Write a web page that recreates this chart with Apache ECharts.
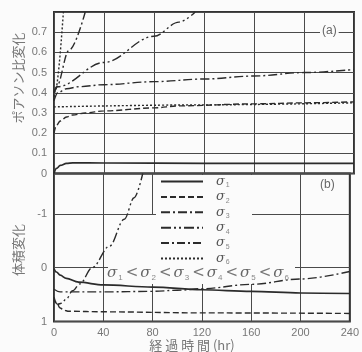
<!DOCTYPE html>
<html><head><meta charset="utf-8">
<script src="https://cdn.jsdelivr.net/npm/echarts@6/dist/echarts.min.js"></script>
<style>html,body{margin:0;padding:0;background:#fbfbfb}#c{width:362px;height:352px}</style>
</head><body><div id="c"></div>
<script>
// ---- data ----
const xTickLabels = ['0','40','80','120','160','200','240'];
const upperTickLabels = ['0','0.1','0.2','0.3','0.4','0.5','0.6','0.7'];
const lowerTickLabels = ['-1','0','1'];
const seriesNames = ['σ1','σ2','σ3','σ4','σ5','σ6'];

// (a) Poisson ratio change
const a1T = [0,2,5,10,15,40,120,240];
const a1V = [0.0,0.025,0.04,0.05,0.053,0.052,0.05,0.05];
const a2T = [0,2,5,10,15,25,40,80,100,160,200,240];
const a2V = [0.20,0.24,0.26,0.28,0.29,0.30,0.31,0.325,0.335,0.345,0.35,0.355];
const a3T = [0,3,10,20,40,80,120,160,200,240];
const a3V = [0.36,0.40,0.42,0.43,0.44,0.455,0.468,0.483,0.50,0.515];
const a4T = [0,3,40,80,100,113];
const a4V = [0.40,0.43,0.55,0.68,0.75,0.80];
const a5T = [0,2,12,25];
const a5V = [0.40,0.43,0.61,0.80];
const a6T = [0,1,7.5];
const a6V = [0.38,0.41,0.80];
const aRefT = [0,120,240];
const aRefV = [0.33,0.34,0.35];

// (b) volume change
const b1T = [0,2,5,10,20,40,80,120,160,200,240];
const b1V = [0.02,0.08,0.14,0.20,0.27,0.32,0.36,0.41,0.44,0.47,0.48];
const b2T = [0,2,5,8,12,40,120,240];
const b2V = [0.55,0.65,0.75,0.79,0.81,0.82,0.84,0.85];
const b3T = [0,5,40,80,100,120,160,200,240];
const b3V = [0.40,0.45,0.45,0.44,0.42,0.39,0.31,0.21,0.07];
const b4T = [0,3,6,10,15,21,31,45,57,65,72];
const b4V = [0.60,0.68,0.66,0.58,0.43,0.30,0.0,-0.40,-0.90,-1.30,-1.75];

const zip = (t, v) => t.map((x, i) => [x, v[i]]);

const INK = '#2b2b2b';
const GRID = '#4a4a4a';
const BG = '#fbfbfb';
const dash = {
  'σ1': 'solid', 'σ2': [6,3], 'σ3': [9,3,2,3], 'σ4': [10,3,2,3,2,3], 'σ5': [8,3,2,3], 'σ6': [2,2]
};
function line(name, t, v, gi) {
  return {
    name, type: 'line', xAxisIndex: gi, yAxisIndex: gi, data: zip(t, v),
    symbol: 'none', smooth: 0.35, smoothMonotone: 'x', z: 3,
    lineStyle: { color: INK, width: name === 'σ1' ? 1.7 : 1.4, type: dash[name] || [2,2] },
    itemStyle: { color: INK }
  };
}

const chart = echarts.init(document.getElementById('c'), null, { renderer: 'canvas' });
const xAxisBase = {
  type: 'value', min: 0, max: 240, interval: 40,
  axisLine: { show: false }, axisTick: { show: false },
  splitLine: { show: true, lineStyle: { color: GRID, width: 1 } }
};
chart.setOption({
  backgroundColor: BG,
  animation: false,
  grid: [
    { left: 54, right: 8, top: 12, height: 161.5, show: true, borderColor: '#333', borderWidth: 2, backgroundColor: 'transparent' },
    { left: 54, right: 8, top: 173.5, height: 148, show: true, borderColor: '#333', borderWidth: 2, backgroundColor: 'transparent' }
  ],
  xAxis: [
    Object.assign({}, xAxisBase, { gridIndex: 0, axisLabel: { show: false } }),
    Object.assign({}, xAxisBase, { gridIndex: 1,
      axisLabel: { show: true, margin: 6, fontSize: 11, color: '#777', fontFamily: 'Liberation Sans',
        formatter: v => xTickLabels[Math.round(v / 40)] } })
  ],
  yAxis: [
    { type: 'value', gridIndex: 0, min: 0, max: 0.8, interval: 0.1,
      axisLine: { show: false }, axisTick: { show: false },
      splitLine: { show: true, lineStyle: { color: GRID, width: 1 } },
      axisLabel: { margin: 7, fontSize: 11, color: '#777', fontFamily: 'Liberation Sans',
        formatter: v => { const i = Math.round(v * 10); return i < upperTickLabels.length ? upperTickLabels[i] : ''; } } },
    { type: 'value', gridIndex: 1, min: -1.75, max: 1, interval: 0.25, inverse: true,
      axisLine: { show: false }, axisTick: { show: false },
      splitLine: { show: true, showMinLine: true, showMaxLine: true,
        lineStyle: { color: ['rgba(0,0,0,0)','rgba(0,0,0,0)','rgba(0,0,0,0)', GRID], width: 1 } },
      axisLabel: { margin: 7, fontSize: 11, color: '#777', fontFamily: 'Liberation Sans',
        formatter: v => { const k = lowerTickLabels.indexOf(String(Math.round(v))); return (Math.abs(v - Math.round(v)) < 1e-6 && k >= 0) ? lowerTickLabels[k] : ''; } } }
  ],
  legend: {
    data: seriesNames, orient: 'vertical', left: 160, top: 174,
    itemWidth: 42, itemHeight: 8, itemGap: 0.4, selectedMode: false,
    padding: 0, backgroundColor: 'transparent',
    itemStyle: { opacity: 0, borderWidth: 0 },
    formatter: n => `{s|σ}{n|${n.slice(1)}}`,
    textStyle: { color: '#555', padding: [0,0,0,8], lineHeight: 15,
      rich: { s: { fontSize: 13, fontStyle: 'italic', fontFamily: 'DejaVu Serif', color: '#555', lineHeight: 15 },
              n: { fontSize: 7, color: '#888', lineHeight: 15, verticalAlign: 'bottom', padding: [0,0,0,1] } } }
  },
  graphic: [
    { type: 'rect', z: 1, shape: { x: 156, y: 175, width: 96, height: 40 }, style: { fill: BG } },
    { type: 'rect', z: 1, shape: { x: 108, y: 215, width: 187, height: 69 }, style: { fill: BG } },
    { type: 'text', z: 5, left: 320, top: 25, style: { text: '(a)', fontSize: 12, fill: '#666', fontFamily: 'Liberation Sans', backgroundColor: BG, padding: [0,2] } },
    { type: 'text', z: 5, left: 320, top: 179, style: { text: '(b)', fontSize: 12, fill: '#666', fontFamily: 'Liberation Sans' } },
    { type: 'text', z: 5, left: 107, top: 266, style: {
        text: '{s|σ}{n|1}{l|<}{s|σ}{n|2}{l|<}{s|σ}{n|3}{l|<}{s|σ}{n|4}{l|<}{s|σ}{n|5}{l|<}{s|σ}{n|6}',
        rich: { s: { fontSize: 15, fontStyle: 'italic', fontFamily: 'DejaVu Serif', fill: '#666', lineHeight: 17 },
                n: { fontSize: 8, fill: '#888', lineHeight: 17, verticalAlign: 'bottom', padding: [0,1,0,1] },
                l: { fontSize: 15, fill: '#777', lineHeight: 17, padding: [0,2,0,2], fontFamily: 'DejaVu Sans' } } } },
    { type: 'text', z: 5, x: 18, y: 78, rotation: Math.PI / 2,
      style: { text: 'ポアソン比変化', fontSize: 13, fill: '#777', fontFamily: 'Noto Sans CJK JP', align: 'center', verticalAlign: 'middle' } },
    { type: 'text', z: 5, x: 18, y: 250, rotation: Math.PI / 2,
      style: { text: '体積変化', fontSize: 13, fill: '#777', fontFamily: 'Noto Sans CJK JP', align: 'center', verticalAlign: 'middle' } },
    { type: 'text', z: 5, x: 192, y: 345,
      style: { text: '経 過 時 間 (hr)', fontSize: 13, fill: '#777', fontFamily: 'Noto Sans CJK JP', align: 'center', verticalAlign: 'middle' } }
  ],
  series: [
    line('σ1', a1T, a1V, 0), line('σ2', a2T, a2V, 0), line('σ3', a3T, a3V, 0),
    line('σ4', a4T, a4V, 0), line('σ5', a5T, a5V, 0), line('σ6', a6T, a6V, 0),
    line('ref', aRefT, aRefV, 0),
    line('σ1', b1T, b1V, 1), line('σ2', b2T, b2V, 1), line('σ3', b3T, b3V, 1), line('σ4', b4T, b4V, 1)
  ]
});
</script></body></html>
